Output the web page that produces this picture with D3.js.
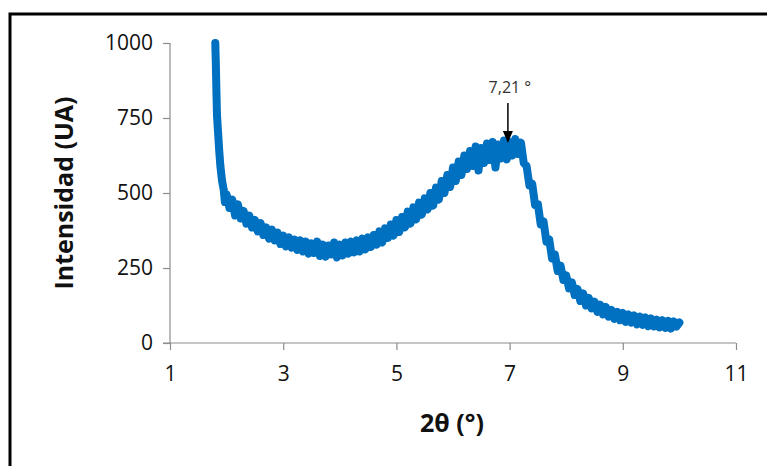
<!DOCTYPE html>
<html>
<head>
<meta charset="utf-8">
<script src="https://cdn.jsdelivr.net/npm/d3@7"></script>
<style>
  body { margin: 0; background: #fff; }
  svg { display: block; }
  .tick text { font-family: "Open Sans", sans-serif; font-size: 21px; fill: #111; }
  .title { font-family: "Open Sans", sans-serif; font-size: 25px; font-weight: bold; fill: #111; }
</style>
</head>
<body>
<svg id="chart" width="767" height="466"></svg>
<script>
// diffractogram
var twoTheta = [1.80, 1.81, 1.82, 1.83, 1.85, 1.87, 1.89, 1.92, 1.95, 1.97,
  2.00, 2.05, 2.10, 2.15, 2.20, 2.25, 2.30, 2.35, 2.40, 2.45, 2.50, 2.55, 2.60, 2.65, 2.70, 2.75, 2.80, 2.85, 2.90, 2.95,
  3.00, 3.05, 3.10, 3.15, 3.20, 3.25, 3.30, 3.35, 3.40, 3.45, 3.50, 3.55, 3.60, 3.65, 3.70, 3.75, 3.80, 3.85, 3.90, 3.95,
  4.00, 4.05, 4.10, 4.15, 4.20, 4.25, 4.30, 4.35, 4.40, 4.45, 4.50, 4.55, 4.60, 4.65, 4.70, 4.75, 4.80, 4.85, 4.90, 4.95,
  5.00, 5.05, 5.10, 5.15, 5.20, 5.25, 5.30, 5.35, 5.40, 5.45, 5.50, 5.55, 5.60, 5.65, 5.70, 5.75, 5.80, 5.85, 5.90, 5.95,
  6.00, 6.05, 6.10, 6.15, 6.20, 6.25, 6.30, 6.35, 6.40, 6.45, 6.50, 6.55, 6.60, 6.65, 6.70, 6.75, 6.80, 6.85, 6.90, 6.95,
  7.00, 7.05, 7.10, 7.15, 7.20, 7.25, 7.30, 7.35, 7.40, 7.45, 7.50, 7.55, 7.60, 7.65, 7.70, 7.75, 7.80, 7.85, 7.90, 7.95,
  8.00, 8.05, 8.10, 8.15, 8.20, 8.25, 8.30, 8.35, 8.40, 8.45, 8.50, 8.55, 8.60, 8.65, 8.70, 8.75, 8.80, 8.85, 8.90, 8.95,
  9.00, 9.05, 9.10, 9.15, 9.20, 9.25, 9.30, 9.35, 9.40, 9.45, 9.50, 9.55, 9.60, 9.65, 9.70, 9.75, 9.80, 9.85, 9.90, 9.95,
  10.00];

var intensity = [1000, 930, 840, 760, 700, 640, 590, 540, 510, 470,
  495, 450, 478, 425, 462, 415, 440, 398, 425, 385, 410, 372, 400, 360, 385, 348, 378, 342, 368, 330,
  358, 322, 352, 318, 345, 310, 342, 305, 338, 298, 332, 300, 338, 290, 328, 288, 325, 295, 335, 285,
  328, 292, 335, 298, 338, 302, 342, 305, 348, 312, 352, 320, 360, 328, 372, 335, 382, 350, 395, 358,
  410, 370, 420, 385, 438, 398, 452, 412, 468, 428, 482, 445, 500, 458, 518, 478, 540, 500, 560, 520,
  585, 540, 605, 560, 625, 580, 640, 590, 655, 575, 650, 600, 665, 610, 670, 585, 662, 615, 675, 612,
  670, 625, 680, 630, 668, 600, 590, 525, 530, 460, 462, 395, 405, 338, 345, 282, 295, 240, 258, 210,
  225, 182, 202, 160, 180, 140, 165, 125, 150, 115, 138, 104, 128, 95, 120, 88, 110, 80, 104, 76,
  100, 70, 95, 68, 92, 62, 88, 60, 85, 56, 82, 55, 78, 52, 76, 50, 74, 48, 72, 55,
  68];

var xTicks = [1, 3, 5, 7, 9, 11];
var yTicks = [0, 250, 500, 750, 1000];

var peakX = 6.97, peakLabel = "7,21 °";

var svg = d3.select("#chart");
var plot = { left: 170, right: 736, top: 43, bottom: 343 };

var x = d3.scaleLinear().domain([1, 11]).range([plot.left, plot.right]);
var y = d3.scaleLinear().domain([0, 1000]).range([plot.bottom, plot.top]);

// outer frame, cut by the window on right and bottom
svg.append("rect")
    .attr("x", 10).attr("y", 14)
    .attr("width", 800).attr("height", 500)
    .attr("fill", "none")
    .attr("stroke", "#000")
    .attr("stroke-width", 3);

var yAxis = d3.axisLeft(y).tickValues(yTicks).tickSize(7).tickPadding(10)
    .tickFormat(d3.format("d"));
var gy = svg.append("g")
    .attr("transform", "translate(" + plot.left + ",0)")
    .call(yAxis);

var xAxis = d3.axisBottom(x).tickValues(xTicks).tickSize(7).tickPadding(12)
    .tickFormat(d3.format("d"));
var gx = svg.append("g")
    .attr("transform", "translate(0," + plot.bottom + ")")
    .call(xAxis);

[gx, gy].forEach(function(g) {
    g.selectAll(".domain").attr("stroke", "#8c8c8c").attr("stroke-width", 1.2);
    g.selectAll(".tick line").attr("stroke", "#8c8c8c").attr("stroke-width", 1.2);
});
// x axis line starts under the y tick
gx.select(".domain").attr("d", "M" + (plot.left - 7) + ",0H" + plot.right);
gy.select(".domain").attr("d", "M0," + plot.top + "V" + plot.bottom);
gx.selectAll(".tick text").attr("dy", "0.9em");

var line = d3.line()
    .x(function(d, i) { return x(twoTheta[i]); })
    .y(function(d) { return y(d); });

svg.append("path")
    .datum(intensity)
    .attr("d", line)
    .attr("fill", "none")
    .attr("stroke", "#0070c0")
    .attr("stroke-width", 8)
    .attr("stroke-linejoin", "round")
    .attr("stroke-linecap", "round");

// peak annotation
var ax = x(peakX);
svg.append("line")
    .attr("x1", ax).attr("x2", ax)
    .attr("y1", 103).attr("y2", 133)
    .attr("stroke", "#000").attr("stroke-width", 1.5);
svg.append("path")
    .attr("d", "M" + (ax - 5) + ",131L" + (ax + 5) + ",131L" + ax + ",143Z")
    .attr("fill", "#000");
svg.append("text")
    .attr("x", ax + 2).attr("y", 93)
    .attr("text-anchor", "middle")
    .style("font-family", "'Open Sans', sans-serif")
    .style("font-size", "16px")
    .style("fill", "#333")
    .text(peakLabel);

svg.append("text")
    .attr("class", "title")
    .attr("transform", "translate(73,193) rotate(-90)")
    .attr("text-anchor", "middle")
    .text("Intensidad (UA)");

svg.append("text")
    .attr("class", "title")
    .attr("x", 452).attr("y", 432)
    .attr("text-anchor", "middle")
    .text("2θ (°)");
</script>
</body>
</html>
